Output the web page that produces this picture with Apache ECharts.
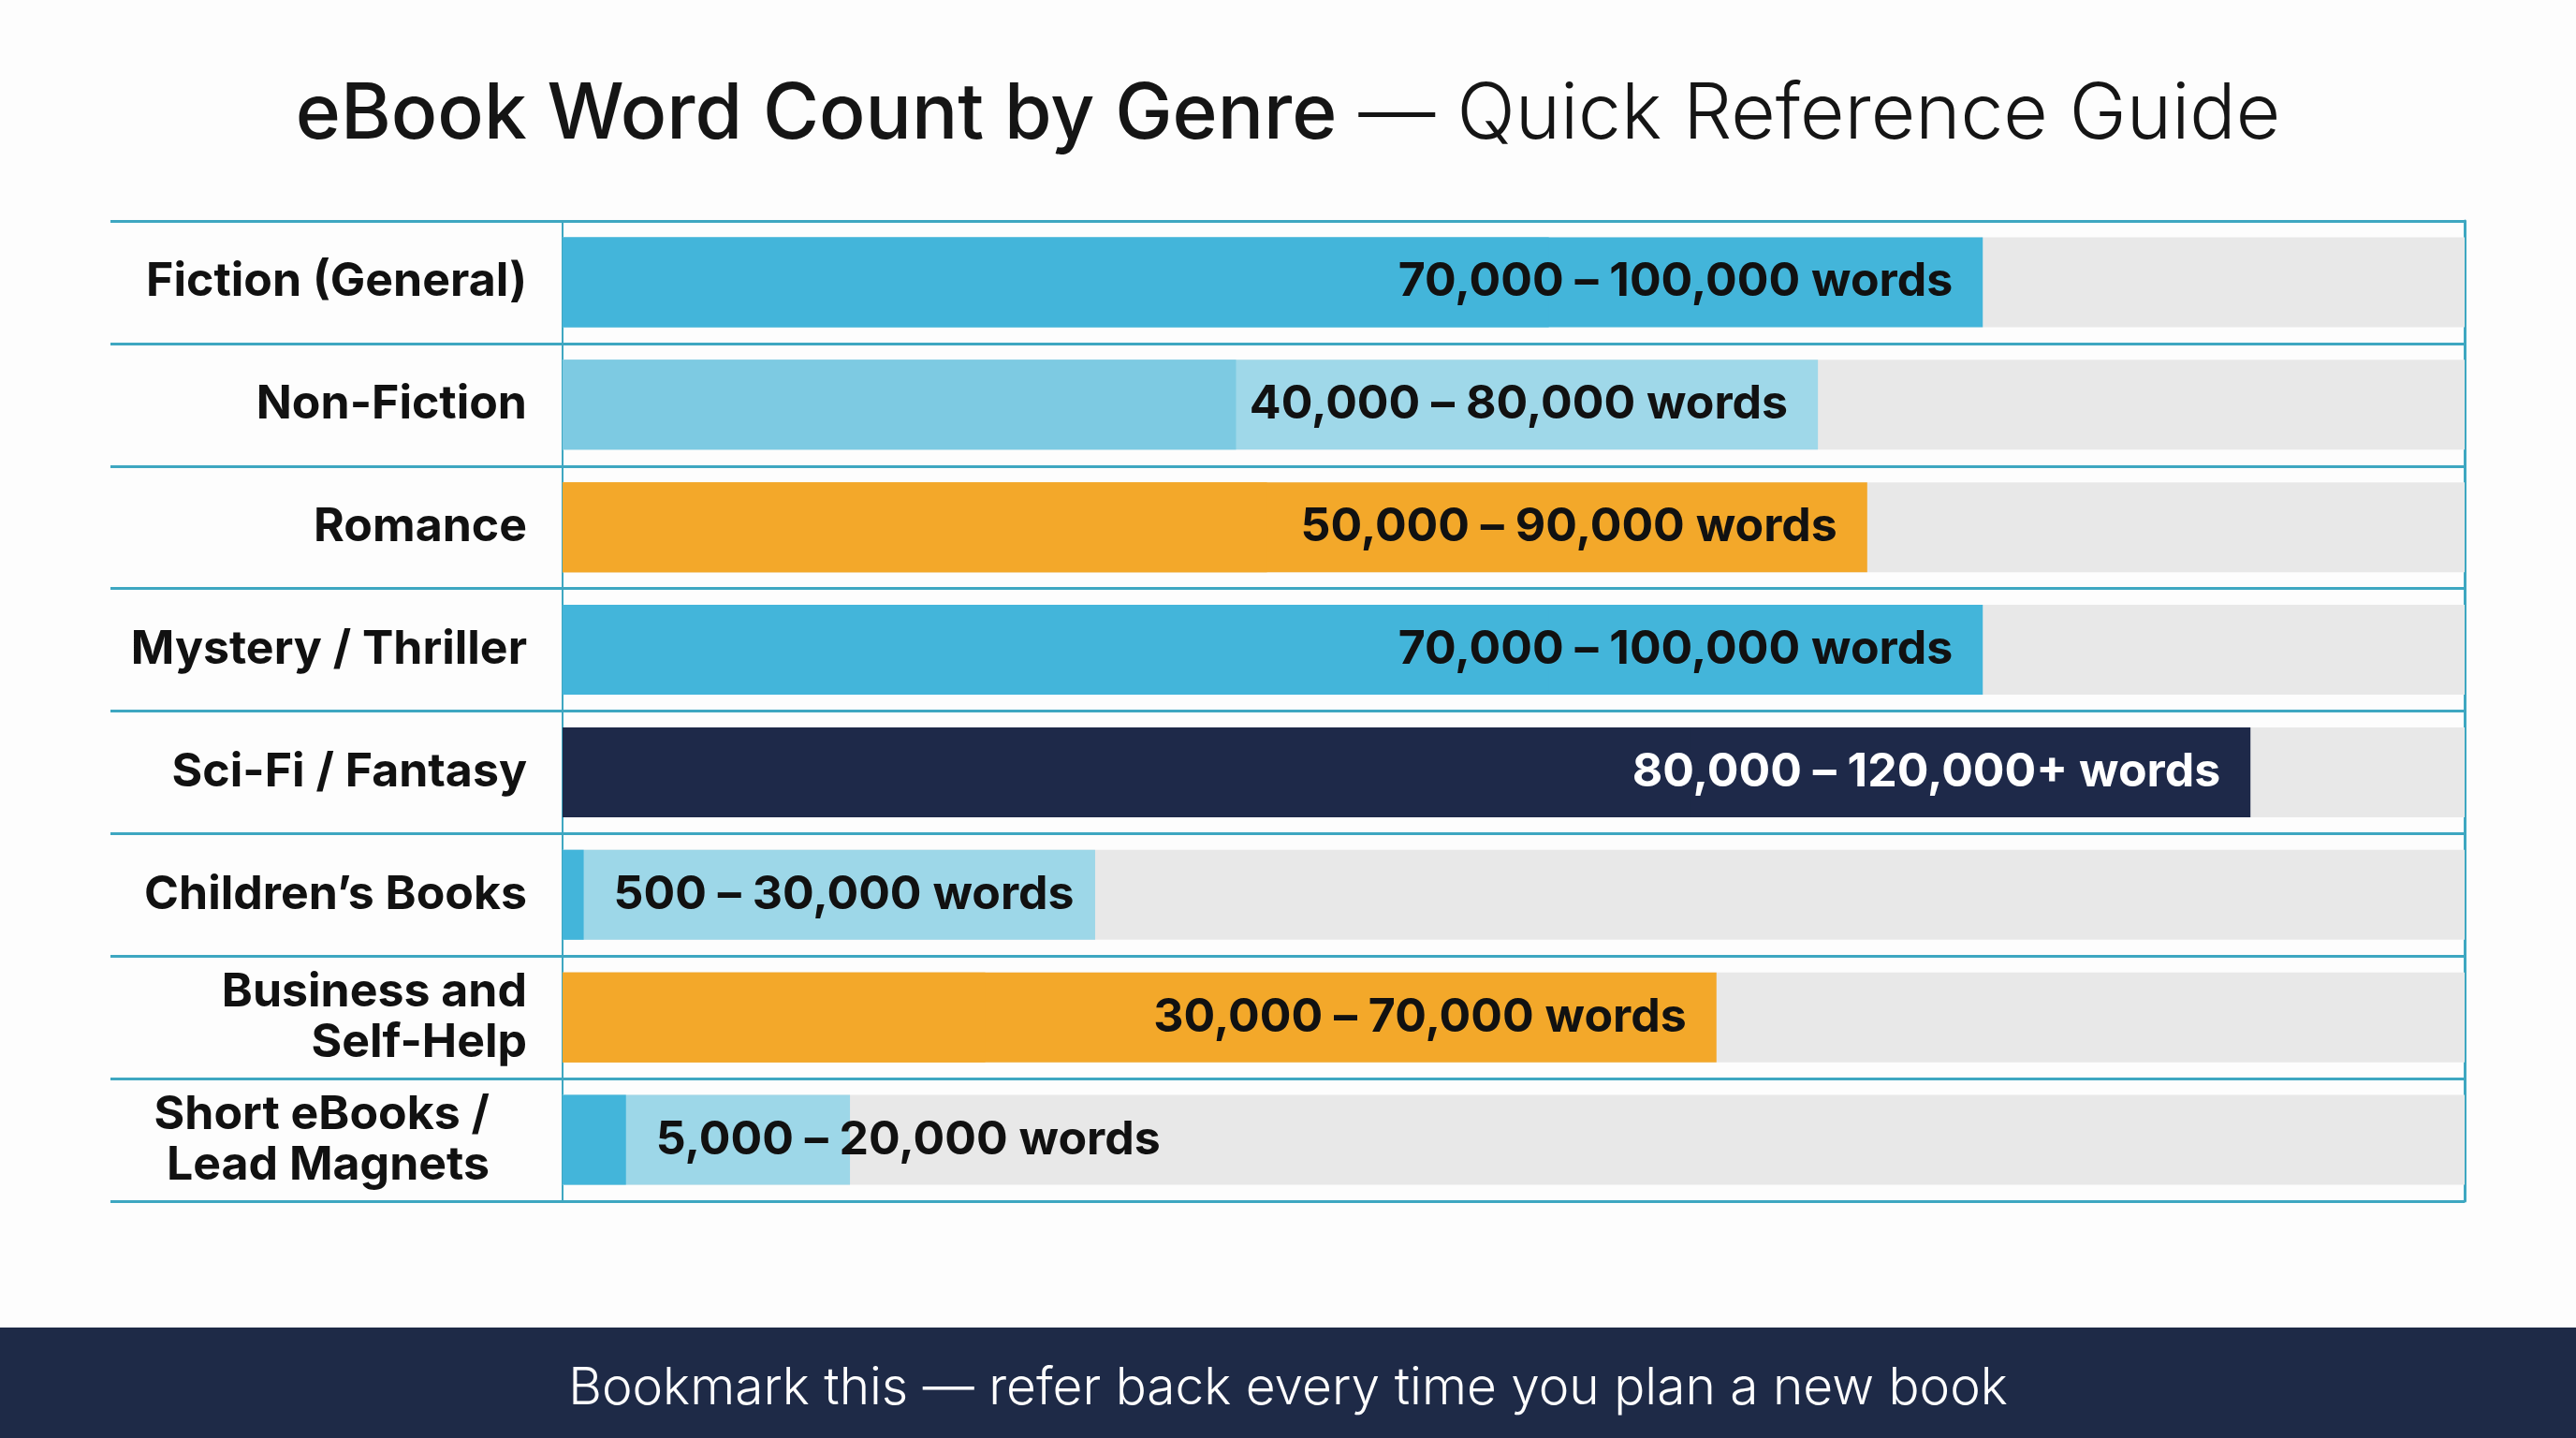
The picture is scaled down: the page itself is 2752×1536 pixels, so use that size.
<!DOCTYPE html>
<html><head><meta charset="utf-8">
<script src="https://cdn.jsdelivr.net/npm/echarts@6/dist/echarts.min.js"></script>
<style>html,body{margin:0;padding:0;background:#fdfdfd;} #c{width:2752px;height:1536px;}</style>
</head><body><div id="c"></div>
<script>
// ---- data ----
const categories = ['Fiction (General)', 'Non-Fiction', 'Romance', 'Mystery / Thriller', 'Sci-Fi / Fantasy', 'Children’s Books', 'Business and\nSelf-Help', 'Short eBooks /\nLead Magnets'];
const rangeLabels = ['70,000 – 100,000 words', '40,000 – 80,000 words', '50,000 – 90,000 words', '70,000 – 100,000 words', '80,000 – 120,000+ words', '500 – 30,000 words', '30,000 – 70,000 words', '5,000 – 20,000 words'];
// bar segment boundaries as drawn (words)
const rangeStart = [70000, 47800, 50000, 70000, 80000, 1500, 30000, 4500];
const rangeEnd = [100800, 89100, 92600, 100800, 119800, 37800, 81900, 20400];
const axisMax = 135000;
const titleMain = 'eBook Word Count by Genre';
const titleSub = '— Quick Reference Guide';
const footerText = 'Bookmark this — refer back every time you plan a new book';

// ---- styles ----
const baseColors = ['#43b5da', '#7dcae2', '#f3a82a', '#43b5da', '#1e2949', '#43b5da', '#f3a82a', '#43b5da'];
const rangeColors = ['#43b5da', '#9fd8e9', '#f3a82a', '#43b5da', '#1e2949', '#9dd7e8', '#f3a82a', '#9dd7e8'];
const labelColors = ['#111', '#111', '#111', '#111', '#fff', '#111', '#111', '#111'];
const labelAtStart = [false, false, false, false, false, true, false, true];
const lineColor = '#3ea7c1';
const FONT = 'Inter, Roboto, sans-serif';

const chart = echarts.init(document.getElementById('c'), null, {renderer: 'canvas'});
chart.setOption({
  backgroundColor: '#fdfdfd',
  animation: false,
  title: [{
    text: '{a|' + titleMain + '}{b| ' + titleSub + '}',
    left: 'center', top: 69,
    textStyle: {
      rich: {
        a: {fontFamily: FONT, fontSize: 82, fontWeight: 500, color: '#151515', lineHeight: 98},
        b: {fontFamily: FONT, fontSize: 82, fontWeight: 300, color: '#151515', lineHeight: 98}
      }
    }
  }, {
    text: footerText,
    left: 'center', top: 1443,
    textStyle: {fontFamily: FONT, fontSize: 55, fontWeight: 300, color: '#ffffff', lineHeight: 70}
  }],
  graphic: [{
    type: 'rect', left: 0, top: 1418, z: -1,
    shape: {width: 2752, height: 118},
    style: {fill: '#1e2a47'}
  }],
  grid: [
    {left: 601, right: 2752 - 2633, top: 236, height: 1047},
    {left: 118, right: 2752 - 2633, top: 236, height: 1047}
  ],
  xAxis: [
    {type: 'value', gridIndex: 0, min: 0, max: axisMax, show: false},
    {type: 'value', gridIndex: 1, min: 0, max: 1, show: false}
  ],
  yAxis: [
    {
      type: 'category', gridIndex: 0, data: categories, inverse: true,
      axisLine: {show: true, lineStyle: {color: lineColor, width: 2}},
      axisTick: {show: false}, splitLine: {show: false},
      axisLabel: {
        fontFamily: FONT, fontSize: 50, fontWeight: 700, color: '#111', margin: 38, lineHeight: 54, align: 'right',
        formatter: (v, i) => i === categories.length - 1 ? v.split('\n').map(s => '{s|' + s + '}').join('\n') : v,
        rich: {s: {fontFamily: FONT, fontSize: 50, fontWeight: 700, color: '#111', lineHeight: 54, padding: [0, 40, 0, 0]}}
      }
    },
    {
      type: 'category', gridIndex: 0, data: categories, inverse: true, position: 'right',
      axisLine: {show: true, lineStyle: {color: lineColor, width: 3}},
      axisTick: {show: false}, axisLabel: {show: false}, splitLine: {show: false}
    },
    {
      type: 'category', gridIndex: 1, data: categories, inverse: true,
      axisLine: {show: false}, axisTick: {show: false}, axisLabel: {show: false},
      splitLine: {show: true, lineStyle: {color: lineColor, width: 3}}
    }
  ],
  series: [
    {
      // full bar 0 → upper end, coloured as the range part
      name: 'upper', type: 'bar', xAxisIndex: 0, yAxisIndex: 0,
      barWidth: 96, barGap: '-100%', z: 2,
      showBackground: true, backgroundStyle: {color: '#e8e8e8'},
      data: rangeEnd.map((v, i) => ({value: v, itemStyle: {color: rangeColors[i]}}))
    },
    {
      // base part 0 → lower end drawn on top
      name: 'lower', type: 'bar', xAxisIndex: 0, yAxisIndex: 0,
      barWidth: 96, barGap: '-100%', z: 3,
      data: rangeStart.map((v, i) => ({value: v, itemStyle: {color: baseColors[i]}}))
    },
    {
      // transparent range segment carrying the text labels
      name: 'labels', type: 'bar', stack: 'lab', xAxisIndex: 0, yAxisIndex: 0,
      barWidth: 96, barGap: '-100%', z: 4, silent: true,
      itemStyle: {color: 'rgba(0,0,0,0)'},
      data: rangeStart.map(v => v)
    },
    {
      name: 'rangeText', type: 'bar', stack: 'lab', xAxisIndex: 0, yAxisIndex: 0,
      barWidth: 96, barGap: '-100%', z: 4, silent: true,
      data: rangeEnd.map((v, i) => ({
        value: v - rangeStart[i],
        itemStyle: {color: 'rgba(0,0,0,0)'},
        label: {show: true, position: labelAtStart[i] ? 'insideLeft' : 'insideRight', distance: 32, color: labelColors[i],
          fontFamily: FONT, fontSize: 50, fontWeight: 700,
          formatter: () => rangeLabels[i]}
      }))
    }
  ]
});
</script>
</body></html>
